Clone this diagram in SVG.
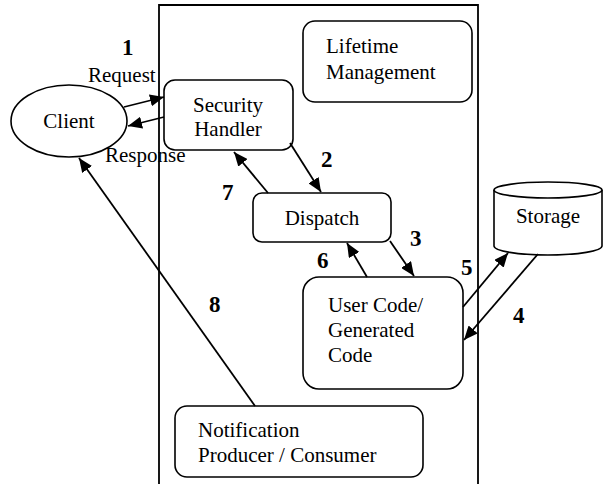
<svg xmlns="http://www.w3.org/2000/svg" width="603" height="484" viewBox="0 0 603 484">
<style>
.n{fill:#fff;stroke:#000;stroke-width:1.6}
.t{font-family:"Liberation Serif","Times New Roman",serif;font-size:21px;fill:#000}
.b{font-family:"Liberation Serif","Times New Roman",serif;font-size:23px;font-weight:bold;fill:#000}
.c{stroke:#000;stroke-width:1.8;fill:none;marker-end:url(#ah)}
</style>
<defs>
<marker id="ah" markerUnits="userSpaceOnUse" markerWidth="15" markerHeight="12" refX="14" refY="6" orient="auto">
<path d="M0,0 L14,6 L0,12 z" fill="#000"/>
</marker>
</defs>
<rect x="0" y="0" width="603" height="484" fill="#fff"/>
<g id="container"><path d="M159,490 V5 H478 V490" fill="none" stroke="#000" stroke-width="1.8"/></g>
<g id="client"><ellipse class="n" cx="69" cy="121" rx="58" ry="36"/><text class="t" x="69" y="128" text-anchor="middle">Client</text></g>
<g id="security"><rect class="n" x="164" y="80" width="129" height="70" rx="11"/><text class="t" x="228" y="112" text-anchor="middle">Security</text><text class="t" x="228" y="136" text-anchor="middle">Handler</text></g>
<g id="lifetime"><rect class="n" x="303" y="21" width="169" height="81" rx="12"/><text class="t" x="326" y="53">Lifetime</text><text class="t" x="326" y="79">Management</text></g>
<g id="dispatch"><rect class="n" x="253" y="193" width="138" height="49" rx="9"/><text class="t" x="322" y="225" text-anchor="middle">Dispatch</text></g>
<g id="usercode"><rect class="n" x="303" y="277" width="160" height="112" rx="16"/><text class="t" x="328" y="312">User Code/</text><text class="t" x="328" y="337">Generated</text><text class="t" x="328" y="362">Code</text></g>
<g id="notification"><rect class="n" x="175" y="406" width="248" height="71" rx="12"/><text class="t" x="198" y="437">Notification</text><text class="t" x="198" y="462">Producer / Consumer</text></g>
<g id="storage"><path class="n" d="M494,190 V246 A54,9 0 0 0 602,246 V190"/><ellipse class="n" cx="548" cy="190" rx="54" ry="8"/><text class="t" x="548" y="223" text-anchor="middle">Storage</text></g>
<g id="connectors">
<line class="c" x1="124" y1="107" x2="164" y2="97"/>
<line class="c" x1="164" y1="117" x2="128" y2="126"/>
<line class="c" x1="290" y1="143" x2="321" y2="192"/>
<line class="c" x1="390" y1="241" x2="414" y2="276"/>
<line class="c" x1="538" y1="254" x2="464" y2="340"/>
<line class="c" x1="463" y1="307" x2="508" y2="253"/>
<line class="c" x1="367" y1="277" x2="347" y2="243"/>
<line class="c" x1="268" y1="193" x2="234" y2="152"/>
<line class="c" x1="255" y1="406" x2="79" y2="158"/>
</g>
<g id="labels">
<text class="b" x="122" y="55">1</text>
<text class="t" x="88" y="82">Request</text>
<text class="t" x="105" y="162">Response</text>
<text class="b" x="321" y="167">2</text>
<text class="b" x="410" y="246">3</text>
<text class="b" x="513" y="323">4</text>
<text class="b" x="461" y="275">5</text>
<text class="b" x="317" y="268">6</text>
<text class="b" x="222" y="200">7</text>
<text class="b" x="209" y="312">8</text>
</g>
</svg>
